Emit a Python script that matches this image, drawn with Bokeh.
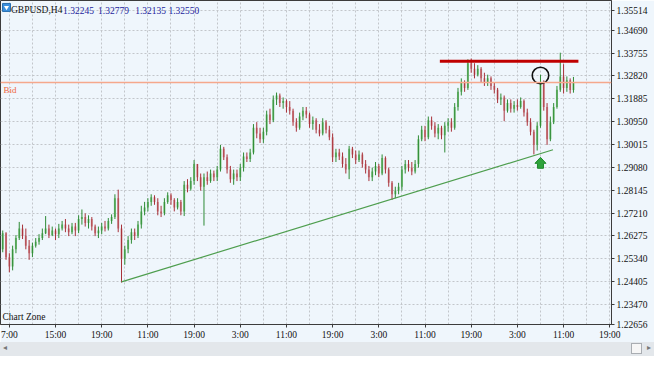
from bokeh.plotting import figure
from bokeh.models import ColumnDataSource, FixedTicker, Range1d, Span, Label, PrintfTickFormatter, Div
from bokeh.layouts import column
from bokeh.embed import file_html
from bokeh.resources import INLINE

# ---------------- data (GBPUSD, H4) ----------------
symbol = "GBPUSD,H4"
first_open = 1.2573
closes = [
    1.2639, 1.2541, 1.2503, 1.2573, 1.2619, 1.2658, 1.2627, 1.2588, 1.2557, 1.2588,
    1.2604, 1.2619, 1.2639, 1.2658, 1.2631, 1.2650, 1.2635, 1.2658, 1.2674, 1.2658,
    1.2643, 1.2666, 1.2650, 1.2697, 1.2705, 1.2681, 1.2697, 1.2666, 1.2639, 1.2650,
    1.2666, 1.2658, 1.2689, 1.2705, 1.2782, 1.2658, 1.2534, 1.2573, 1.2611, 1.2643,
    1.2627, 1.2674, 1.2728, 1.2744, 1.2767, 1.2786, 1.2767, 1.2728, 1.2720, 1.2767,
    1.2794, 1.2775, 1.2744, 1.2767, 1.2728, 1.2837, 1.2821, 1.2852, 1.2922, 1.2868,
    1.2829, 1.2868, 1.2852, 1.2883, 1.2868, 1.2899, 1.2984, 1.2949, 1.2899, 1.2860,
    1.2883, 1.2868, 1.2907, 1.2953, 1.2942, 1.2969, 1.3070, 1.3047, 1.3023, 1.3054,
    1.3124, 1.3101, 1.3186, 1.3202, 1.3171, 1.3179, 1.3155, 1.3140, 1.3093, 1.3070,
    1.3116, 1.3140, 1.3124, 1.3085, 1.3101, 1.3062, 1.3047, 1.3093, 1.3062, 1.3031,
    1.2949, 1.2969, 1.2953, 1.2922, 1.2899, 1.2984, 1.2961, 1.2938, 1.2961, 1.2922,
    1.2899, 1.2868, 1.2891, 1.2914, 1.2883, 1.2946, 1.2899, 1.2845, 1.2798, 1.2813,
    1.2829, 1.2899, 1.2922, 1.2907, 1.2891, 1.2922, 1.3023, 1.3062, 1.3031, 1.3101,
    1.3078, 1.3047, 1.3070, 1.3039, 1.3078, 1.3093, 1.3070, 1.3155, 1.3217, 1.3256,
    1.3233, 1.3334, 1.3311, 1.3287, 1.3311, 1.3272, 1.3256, 1.3272, 1.3241, 1.3225,
    1.3186, 1.3194, 1.3140, 1.3171, 1.3148, 1.3163, 1.3155, 1.3179, 1.3132, 1.3093,
    1.3054, 1.3000, 1.3078, 1.3256, 1.3155, 1.3023, 1.3093, 1.3155, 1.3225, 1.3280,
    1.3233, 1.3264, 1.32245, 1.32550]
highs = [
    1.2650, 1.2643, 1.2557, 1.2588, 1.2631, 1.2685, 1.2674, 1.2658, 1.2611, 1.2600,
    1.2619, 1.2635, 1.2658, 1.2709, 1.2674, 1.2666, 1.2658, 1.2677, 1.2689, 1.2697,
    1.2674, 1.2681, 1.2681, 1.2712, 1.2736, 1.2720, 1.2712, 1.2705, 1.2674, 1.2666,
    1.2681, 1.2689, 1.2701, 1.2716, 1.2798, 1.2817, 1.2674, 1.2588, 1.2627, 1.2658,
    1.2658, 1.2689, 1.2751, 1.2767, 1.2782, 1.2798, 1.2794, 1.2782, 1.2751, 1.2782,
    1.2806, 1.2802, 1.2782, 1.2782, 1.2775, 1.2852, 1.2860, 1.2868, 1.2938, 1.2922,
    1.2883, 1.2883, 1.2891, 1.2899, 1.2895, 1.2914, 1.3000, 1.2992, 1.2961, 1.2914,
    1.2899, 1.2899, 1.2922, 1.2969, 1.2969, 1.2984, 1.3085, 1.3093, 1.3070, 1.3070,
    1.3140, 1.3148, 1.3202, 1.3214, 1.3210, 1.3194, 1.3186, 1.3179, 1.3148, 1.3109,
    1.3132, 1.3155, 1.3155, 1.3132, 1.3116, 1.3109, 1.3085, 1.3109, 1.3101, 1.3078,
    1.3047, 1.2984, 1.2984, 1.2969, 1.2946, 1.2996, 1.2992, 1.2977, 1.2977, 1.2969,
    1.2938, 1.2914, 1.2907, 1.2930, 1.2922, 1.2961, 1.2953, 1.2907, 1.2852, 1.2829,
    1.2845, 1.2914, 1.2938, 1.2938, 1.2930, 1.2938, 1.3039, 1.3078, 1.3078, 1.3116,
    1.3116, 1.3093, 1.3085, 1.3078, 1.3093, 1.3109, 1.3109, 1.3171, 1.3233, 1.3272,
    1.3264, 1.3350, 1.3353, 1.3334, 1.3326, 1.3318, 1.3295, 1.3287, 1.3280, 1.3256,
    1.3233, 1.3210, 1.3202, 1.3186, 1.3186, 1.3179, 1.3186, 1.3194, 1.3186, 1.3148,
    1.3109, 1.3062, 1.3093, 1.3287, 1.3264, 1.3171, 1.3116, 1.3171, 1.3241, 1.3377,
    1.3330, 1.3280, 1.3272, 1.32779]
lows = [
    1.2561, 1.2530, 1.2479, 1.2487, 1.2557, 1.2611, 1.2615, 1.2573, 1.2530, 1.2541,
    1.2580, 1.2592, 1.2611, 1.2635, 1.2619, 1.2627, 1.2611, 1.2619, 1.2650, 1.2643,
    1.2627, 1.2635, 1.2627, 1.2639, 1.2674, 1.2666, 1.2658, 1.2650, 1.2627, 1.2619,
    1.2635, 1.2646, 1.2650, 1.2677, 1.2697, 1.2643, 1.2437, 1.2510, 1.2557, 1.2596,
    1.2611, 1.2619, 1.2658, 1.2712, 1.2728, 1.2751, 1.2755, 1.2712, 1.2705, 1.2712,
    1.2759, 1.2755, 1.2728, 1.2736, 1.2712, 1.2709, 1.2806, 1.2813, 1.2837, 1.2852,
    1.2813, 1.2670, 1.2837, 1.2845, 1.2852, 1.2852, 1.2891, 1.2938, 1.2883, 1.2845,
    1.2837, 1.2852, 1.2852, 1.2891, 1.2930, 1.2930, 1.2961, 1.3027, 1.3008, 1.3008,
    1.3039, 1.3085, 1.3093, 1.3163, 1.3155, 1.3148, 1.3132, 1.3124, 1.3078, 1.3054,
    1.3062, 1.3101, 1.3109, 1.3070, 1.3062, 1.3047, 1.3035, 1.3039, 1.3047, 1.3019,
    1.2930, 1.2930, 1.2938, 1.2907, 1.2883, 1.2860, 1.2946, 1.2922, 1.2930, 1.2907,
    1.2883, 1.2852, 1.2852, 1.2876, 1.2868, 1.2876, 1.2883, 1.2829, 1.2775, 1.2782,
    1.2798, 1.2813, 1.2883, 1.2891, 1.2876, 1.2883, 1.2907, 1.3015, 1.3015, 1.3023,
    1.3062, 1.3031, 1.3023, 1.3023, 1.2969, 1.3054, 1.3054, 1.3062, 1.3140, 1.3202,
    1.3217, 1.3225, 1.3295, 1.3272, 1.3280, 1.3256, 1.3241, 1.3241, 1.3225, 1.3210,
    1.3171, 1.3163, 1.3097, 1.3132, 1.3132, 1.3132, 1.3140, 1.3148, 1.3116, 1.3078,
    1.3039, 1.2961, 1.2977, 1.3070, 1.3140, 1.3000, 1.3015, 1.3085, 1.3148, 1.3217,
    1.3210, 1.3217, 1.3210, 1.32135]

price_ticks = [1.35514, 1.34690, 1.33755, 1.32820, 1.31885, 1.30950, 1.30015,
               1.29080, 1.28145, 1.27210, 1.26275, 1.25340, 1.24405, 1.23470, 1.22656]
time_labels = ["7:00", "15:00", "19:00", "11:00", "19:00", "3:00", "11:00",
               "19:00", "3:00", "11:00", "19:00", "3:00", "11:00", "19:00"]
time_label_bars = [2, 16, 30, 44, 58, 72, 86, 100, 114, 128, 142, 156, 170, 184]

# objects drawn on the chart
resistance_level = 1.3342
resistance_bars = [132.5, 174.5]
trend_bars = [36, 166.8]
trend_prices = [1.2440, 1.2980]
circle_bar, circle_price = 163, 1.3284
arrow_bar, arrow_price = 163, 1.2949

# ---------------- styling ----------------
BG = "#eff6fc"
FONT = "Liberation Sans Narrow"
BULL_WICK, BULL_BODY = "#2e8b35", "#86c888"
BEAR_WICK, BEAR_BODY = "#a8323a", "#d79ca0"
ORANGE = "#f0643c"

W, H = 654, 342
FRAME_W, FRAME_H = 611, 326
X0, X1 = -0.68, 184.53
Y0, Y1 = 1.22656, 1.35904

n = len(closes)
opens = [first_open] + closes[:-1]
up = [c >= o for o, c in zip(opens, closes)]
src = ColumnDataSource(dict(
    bar=list(range(n)), high=highs, low=lows,
    top=[max(o, c) for o, c in zip(opens, closes)],
    bottom=[min(o, c) for o, c in zip(opens, closes)],
    wick=[BULL_WICK if u else BEAR_WICK for u in up],
    body=[BULL_BODY if u else BEAR_BODY for u in up],
))

p = figure(width=W, height=H, x_range=Range1d(X0, X1), y_range=Range1d(Y0, Y1),
           output_backend="svg", toolbar_location=None, y_axis_location="right",
           background_fill_color=BG, border_fill_color=BG)
p.min_border = 0
p.min_border_left = 0
p.min_border_top = 0
p.min_border_right = W - FRAME_W
p.min_border_bottom = H - FRAME_H
p.outline_line_color = "#3c3c3c"

bpp = (X1 - X0) / FRAME_W   # bars per pixel
ppp = (Y1 - Y0) / FRAME_H   # price per pixel

# grid
p.xgrid.ticker = FixedTicker(ticks=[2 + 7 * k for k in range(27)])
p.ygrid.ticker = FixedTicker(ticks=price_ticks)
for g in (p.xgrid, p.ygrid):
    g.grid_line_color = "#c2c6cb"
    g.grid_line_dash = "2 2"
    g.grid_line_width = 1

# axes
yax = p.yaxis[0]
yax.ticker = FixedTicker(ticks=price_ticks)
yax.formatter = PrintfTickFormatter(format="%.5f")
xax = p.xaxis[0]
xax.ticker = FixedTicker(ticks=time_label_bars)
xax.major_label_overrides = {b: t for b, t in zip(time_label_bars, time_labels)}
for ax in (xax, yax):
    ax.axis_line_color = "#3c3c3c"
    ax.major_tick_line_color = "#3c3c3c"
    ax.major_tick_in = 0
    ax.major_tick_out = 3
    ax.minor_tick_line_color = None
    ax.major_label_text_font = FONT
    ax.major_label_text_font_size = "9.5px"
    ax.major_label_text_color = "#111111"
    ax.major_label_standoff = 2

# candles
p.vbar(x="bar", top="top", bottom="bottom", width=0.62, fill_color="body",
       line_color=None, source=src)
p.segment(x0="bar", y0="low", x1="bar", y1="high", line_color="wick",
          line_width=1, source=src)

# bid line
last_close = closes[-1]
p.add_layout(Span(location=last_close, dimension="width", line_color="#f5a88c",
                  line_width=1.6))
p.add_layout(Label(x=3, x_units="screen", y=last_close, text="Bid", text_baseline="top",
                   y_offset=-2, text_color=ORANGE, text_font=FONT, text_font_size="9px"))
p.add_layout(Label(x=FRAME_W + 2, x_units="screen", y=last_close, text=f"{last_close:.5f}",
                   text_baseline="top", y_offset=-2, text_color=ORANGE, text_font=FONT,
                   text_font_size="9.5px", background_fill_color="white",
                   border_line_color=ORANGE,
                   padding=dict(left=3, right=8, top=1, bottom=1)))

# user-drawn objects
p.line(x=resistance_bars, y=[resistance_level] * 2, line_color="#c00000", line_width=3)
p.line(x=trend_bars, y=trend_prices, line_color="#4e9e4e", line_width=1.2)
p.scatter(x=[circle_bar], y=[circle_price], marker="circle", size=16.5,
          fill_color=None, line_color="#111111", line_width=1.6)

arrow_shape = [(0, 0), (5.5, -6), (3, -6), (3, -11), (-3, -11), (-3, -6), (-5.5, -6)]
p.patch(x=[arrow_bar + dx * bpp for dx, dy in arrow_shape],
        y=[arrow_price + dy * ppp for dx, dy in arrow_shape],
        fill_color="#2fa33c", line_color="#1f8a2c", line_width=1)

# header
head_y = Y1 - 10 * ppp
icon_x = X0 + 6 * bpp
icon_y = Y1 - 7 * ppp
p.rect(x=[icon_x], y=[icon_y], width=8, height=8, width_units="screen",
       height_units="screen", fill_color="#3b8fdc", line_color="#2a6fb0")
p.scatter(x=[icon_x], y=[icon_y], marker="inverted_triangle", size=5,
          fill_color="white", line_color=None)
p.add_layout(Label(x=10.5, x_units="screen", y=head_y, text=symbol, text_baseline="middle",
                   text_color="#111111", text_font=FONT, text_font_size="9.5px"))
for sx, v in zip([62.5, 97.6, 134.7, 167.9], [opens[-1], highs[-1], lows[-1], closes[-1]]):
    p.add_layout(Label(x=sx, x_units="screen", y=head_y, text=f"{v:.5f}",
                       text_baseline="middle", text_color="#1c1c9c", text_font=FONT,
                       text_font_size="9.5px"))
p.add_layout(Label(x=2, x_units="screen", y=Y0 + 8 * ppp, text="Chart Zone",
                   text_baseline="middle", text_color="#111111", text_font=FONT,
                   text_font_size="9.5px"))

scroll = Div(
    text=('<div style="position:relative;width:654px;height:14px;">'
          '<span style="position:absolute;left:3px;top:1px;font:8px sans-serif;color:#777;">&#9666;</span>'
          '<div style="position:absolute;left:631px;top:1px;width:11px;height:11px;'
          'background:#f6f6f6;border:1px solid #a9adb2;"></div>'
          '<span style="position:absolute;left:647px;top:1px;font:8px sans-serif;color:#777;">&#9656;</span>'
          '</div>'),
    width=W, height=356 - H, margin=0,
    styles={"background-color": "#e3e7eb", "overflow": "hidden"})

layout = column(p, scroll, spacing=0)
open("out.html", "w").write(file_html(layout, INLINE))
